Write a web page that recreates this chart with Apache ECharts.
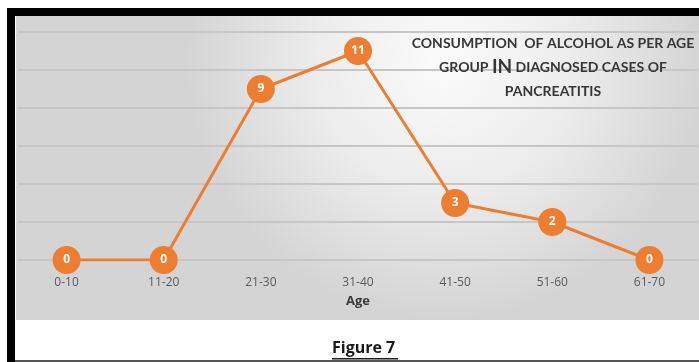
<!DOCTYPE html>
<html>
<head>
<meta charset="utf-8">
<script src="https://cdn.jsdelivr.net/npm/echarts@6/dist/echarts.min.js"></script>
<style>
html,body{margin:0;padding:0;background:#fff;}
#c{width:699px;height:362px;}
</style>
</head>
<body>
<div id="c"></div>
<script>
const categories = ['0-10', '11-20', '21-30', '31-40', '41-50', '51-60', '61-70'];
const values = [0, 0, 9, 11, 3, 2, 0];
const yTicks = [0, 2, 4, 6, 8, 10, 12];
const titleLines = ['CONSUMPTION  OF ALCOHOL AS PER AGE', 'GROUP ', 'IN', ' DIAGNOSED CASES OF', 'PANCREATITIS'];
const xName = 'Age';
const figureLabel = 'Figure 7';

const chart = echarts.init(document.getElementById('c'), null, {renderer: 'canvas'});
const narrow = "Lato, 'Liberation Sans Narrow', sans-serif";
const orange = '#ED7D31';

chart.setOption({
  animation: false,
  backgroundColor: '#ffffff',
  graphic: [
    {type: 'rect', z: -10, silent: true, shape: {x: 16, y: 16, width: 690, height: 304},
     style: {fill: new echarts.graphic.RadialGradient(0.62, 0.15, 0.85, [
       {offset: 0, color: '#fbfbfb'}, {offset: 0.5, color: '#ececec'}, {offset: 1, color: '#d4d4d4'}])}},
    {type: 'rect', z: 10, silent: true, shape: {x: 7, y: 8, width: 700, height: 8}, style: {fill: '#000'}},
    {type: 'rect', z: 10, silent: true, shape: {x: 7, y: 8, width: 8, height: 360}, style: {fill: '#000'}},
    {type: 'rect', z: 10, silent: true, shape: {x: 15, y: 360, width: 690, height: 2}, style: {fill: '#555'}},
    {type: 'text', z: 10, left: 332, top: 340,
     style: {text: figureLabel, font: "bold 16px 'Open Sans', sans-serif", fill: '#1a1a1a'}},
    {type: 'rect', z: 10, silent: true, shape: {x: 332, y: 358, width: 66, height: 1.5}, style: {fill: '#1a1a1a'}}
  ],
  title: {
    text: '{a|' + titleLines[0] + '}\n{a|' + titleLines[1] + '}{b|' + titleLines[2] + '}{a|' + titleLines[3] + '}\n{a|' + titleLines[4] + '}',
    left: 548, top: 26, textAlign: 'center',
    textStyle: {
      rich: {
        a: {fontFamily: narrow, fontWeight: 'bold', fontSize: 14, color: '#363636', lineHeight: 24},
        b: {fontFamily: narrow, fontWeight: 'bold', fontSize: 19, color: '#363636', lineHeight: 24}
      }
    }
  },
  grid: {left: 18, right: 1, top: 32, bottom: 102, containLabel: false},
  xAxis: {
    type: 'category', data: categories, boundaryGap: true,
    axisLine: {show: false}, axisTick: {show: false},
    axisLabel: {color: '#595959', fontSize: 12, margin: 17, fontFamily: "'Open Sans', sans-serif"},
    name: xName, nameLocation: 'middle', nameGap: 35,
    nameTextStyle: {color: '#3a3a3a', fontWeight: 'bold', fontSize: 13, fontFamily: "'Open Sans', sans-serif"}
  },
  yAxis: {
    type: 'value', min: yTicks[0], max: yTicks[yTicks.length - 1], interval: yTicks[1] - yTicks[0],
    axisLabel: {show: false}, axisLine: {show: false}, axisTick: {show: false},
    splitLine: {lineStyle: {color: '#c6c6c6', width: 2}}
  },
  series: [{
    type: 'line', data: values,
    symbol: 'circle', symbolSize: 28,
    lineStyle: {color: orange, width: 3},
    itemStyle: {color: orange},
    label: {show: true, position: 'inside', color: '#fff', fontWeight: 'bold', fontSize: 12, fontFamily: "'Open Sans', sans-serif"},
    z: 5
  }]
});
</script>
</body>
</html>
